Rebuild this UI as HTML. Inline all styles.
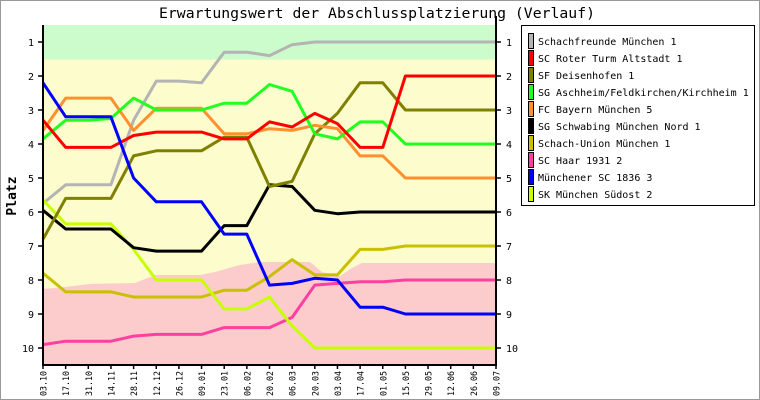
<!DOCTYPE html>
<html><head><meta charset="utf-8"><style>
html,body{margin:0;padding:0;background:#fff}
svg{display:block}
text{font-family:"DejaVu Sans Mono","Liberation Mono",monospace;fill:#000}
</style></head><body>
<svg id="s" width="760" height="400" xmlns="http://www.w3.org/2000/svg">
<rect x="0.5" y="0.5" width="759" height="399" fill="#fff" stroke="#999" stroke-width="1"/>
<text x="159" y="18" font-size="14" textLength="436" lengthAdjust="spacingAndGlyphs">Erwartungswert der Abschlussplatzierung (Verlauf)</text>
<rect x="43" y="25" width="453" height="340" fill="#fcfccc"/>
<rect x="43" y="25" width="453" height="34.5" fill="#ccfccc"/>
<polygon fill="#fccccc" points="43,289 65,287 90,284 135,283 155,275 200,275 215,272 240,265 260,262 310,262 322,272 340,276 352,268 362,263 496,263 496,365 43,365"/>
<g id="lines" fill="none" stroke-width="3" stroke-linejoin="round"></g>
<line x1="43" y1="25" x2="43" y2="365" stroke="#000" stroke-width="2"/>
<line x1="496" y1="16" x2="496" y2="365" stroke="#000" stroke-width="2"/>
<line x1="42" y1="365" x2="497" y2="365" stroke="#000" stroke-width="2"/>
<g id="ticks" stroke="#000" stroke-width="1.5"></g>
<g font-size="10" text-anchor="end">
<text x="34" y="46">1</text><text x="34" y="80">2</text><text x="34" y="114">3</text><text x="34" y="148">4</text><text x="34" y="182">5</text><text x="34" y="216">6</text><text x="34" y="250">7</text><text x="34" y="284">8</text><text x="34" y="318">9</text><text x="34" y="352">10</text>
</g>
<g font-size="10">
<text x="506" y="46">1</text><text x="506" y="80">2</text><text x="506" y="114">3</text><text x="506" y="148">4</text><text x="506" y="182">5</text><text x="506" y="216">6</text><text x="506" y="250">7</text><text x="506" y="284">8</text><text x="506" y="318">9</text><text x="506" y="352">10</text>
</g>
<text transform="translate(16,196) rotate(-90)" font-size="13" text-anchor="middle" font-weight="bold">Platz</text>
<g font-size="9">
<text transform="translate(46.5,396) rotate(-90)" textLength="25" lengthAdjust="spacingAndGlyphs">03.10</text>
<text transform="translate(69.1,396) rotate(-90)" textLength="25" lengthAdjust="spacingAndGlyphs">17.10</text>
<text transform="translate(91.8,396) rotate(-90)" textLength="25" lengthAdjust="spacingAndGlyphs">31.10</text>
<text transform="translate(114.5,396) rotate(-90)" textLength="25" lengthAdjust="spacingAndGlyphs">14.11</text>
<text transform="translate(137.1,396) rotate(-90)" textLength="25" lengthAdjust="spacingAndGlyphs">28.11</text>
<text transform="translate(159.8,396) rotate(-90)" textLength="25" lengthAdjust="spacingAndGlyphs">12.12</text>
<text transform="translate(182.4,396) rotate(-90)" textLength="25" lengthAdjust="spacingAndGlyphs">26.12</text>
<text transform="translate(205.1,396) rotate(-90)" textLength="25" lengthAdjust="spacingAndGlyphs">09.01</text>
<text transform="translate(227.7,396) rotate(-90)" textLength="25" lengthAdjust="spacingAndGlyphs">23.01</text>
<text transform="translate(250.4,396) rotate(-90)" textLength="25" lengthAdjust="spacingAndGlyphs">06.02</text>
<text transform="translate(273,396) rotate(-90)" textLength="25" lengthAdjust="spacingAndGlyphs">20.02</text>
<text transform="translate(295.7,396) rotate(-90)" textLength="25" lengthAdjust="spacingAndGlyphs">06.03</text>
<text transform="translate(318.3,396) rotate(-90)" textLength="25" lengthAdjust="spacingAndGlyphs">20.03</text>
<text transform="translate(341,396) rotate(-90)" textLength="25" lengthAdjust="spacingAndGlyphs">03.04</text>
<text transform="translate(363.6,396) rotate(-90)" textLength="25" lengthAdjust="spacingAndGlyphs">17.04</text>
<text transform="translate(386.3,396) rotate(-90)" textLength="25" lengthAdjust="spacingAndGlyphs">01.05</text>
<text transform="translate(408.9,396) rotate(-90)" textLength="25" lengthAdjust="spacingAndGlyphs">15.05</text>
<text transform="translate(431.6,396) rotate(-90)" textLength="25" lengthAdjust="spacingAndGlyphs">29.05</text>
<text transform="translate(454.2,396) rotate(-90)" textLength="25" lengthAdjust="spacingAndGlyphs">12.06</text>
<text transform="translate(476.9,396) rotate(-90)" textLength="25" lengthAdjust="spacingAndGlyphs">26.06</text>
<text transform="translate(499.5,396) rotate(-90)" textLength="25" lengthAdjust="spacingAndGlyphs">09.07</text>
</g>
<rect x="521.5" y="25.5" width="233" height="180" fill="#fff" stroke="#000"/>
<g stroke="#000" stroke-width="1">
<rect x="528.5" y="33.5" width="5" height="15" fill="#b4b4b4"/>
<rect x="528.5" y="50.5" width="5" height="15" fill="#ff0000"/>
<rect x="528.5" y="67.5" width="5" height="15" fill="#808000"/>
<rect x="528.5" y="84.5" width="5" height="15" fill="#20ff20"/>
<rect x="528.5" y="101.5" width="5" height="15" fill="#ff9030"/>
<rect x="528.5" y="118.5" width="5" height="15" fill="#000000"/>
<rect x="528.5" y="135.5" width="5" height="15" fill="#c8c000"/>
<rect x="528.5" y="152.5" width="5" height="15" fill="#ff40a0"/>
<rect x="528.5" y="169.5" width="5" height="15" fill="#0000ff"/>
<rect x="528.5" y="186.5" width="5" height="15" fill="#c8ff00"/>
</g>
<g font-size="10">
<text x="538" y="45">Schachfreunde München 1</text>
<text x="538" y="62">SC Roter Turm Altstadt 1</text>
<text x="538" y="79">SF Deisenhofen 1</text>
<text x="538" y="96">SG Aschheim/Feldkirchen/Kirchheim 1</text>
<text x="538" y="113">FC Bayern München 5</text>
<text x="538" y="130">SG Schwabing München Nord 1</text>
<text x="538" y="147">Schach-Union München 1</text>
<text x="538" y="164">SC Haar 1931 2</text>
<text x="538" y="181">Münchener SC 1836 3</text>
<text x="538" y="198">SK München Südost 2</text>
</g>
</svg>
<script>
var S=[
["#b4b4b4",[5.75,5.2,5.2,5.2,3.3,2.15,2.15,2.2,1.3,1.3,1.4,1.08,1,1,1,1,1,1,1,1,1]],
["#c8c000",[7.8,8.35,8.35,8.35,8.5,8.5,8.5,8.5,8.3,8.3,7.9,7.4,7.85,7.85,7.1,7.1,7,7,7,7,7]],
["#ff40a0",[9.9,9.8,9.8,9.8,9.65,9.6,9.6,9.6,9.4,9.4,9.4,9.1,8.15,8.1,8.05,8.05,8,8,8,8,8]],
["#c8ff00",[5.65,6.35,6.35,6.35,7.1,8,8,8,8.85,8.85,8.5,9.35,10,10,10,10,10,10,10,10,10]],
["#000000",[5.95,6.5,6.5,6.5,7.05,7.15,7.15,7.15,6.4,6.4,5.2,5.25,5.95,6.05,6,6,6,6,6,6,6]],
["#808000",[6.8,5.6,5.6,5.6,4.35,4.2,4.2,4.2,3.8,3.8,5.25,5.1,3.7,3.1,2.2,2.2,3,3,3,3,3]],
["#ff9030",[3.6,2.65,2.65,2.65,3.6,2.95,2.95,2.95,3.7,3.7,3.55,3.6,3.45,3.55,4.35,4.35,5,5,5,5,5]],
["#20ff20",[3.85,3.3,3.3,3.25,2.65,3,3,3,2.8,2.8,2.25,2.45,3.7,3.85,3.35,3.35,4,4,4,4,4]],
["#ff0000",[3.3,4.1,4.1,4.1,3.75,3.65,3.65,3.65,3.85,3.85,3.35,3.5,3.1,3.4,4.1,4.1,2,2,2,2,2]],
["#0000ff",[2.2,3.2,3.2,3.2,5,5.7,5.7,5.7,6.65,6.65,8.15,8.1,7.95,8,8.8,8.8,9,9,9,9,9]]
];
var ns="http://www.w3.org/2000/svg",g=document.getElementById("lines");
S.forEach(function(s){var p=document.createElementNS(ns,"polyline");
p.setAttribute("stroke",s[0]);
p.setAttribute("points",s[1].map(function(r,i){return (43+22.65*i).toFixed(1)+","+(42+34*(r-1)).toFixed(1)}).join(" "));
g.appendChild(p);});
var t=document.getElementById("ticks");
function L(a,b,c,d){var l=document.createElementNS(ns,"line");l.setAttribute("x1",a);l.setAttribute("y1",b);l.setAttribute("x2",c);l.setAttribute("y2",d);t.appendChild(l);}
for(var i=0;i<10;i++){var y=42+34*i;L(38,y,43,y);L(496,y,501,y);}
for(var i=0;i<21;i++){var x=43+22.65*i;L(x,365,x,369);}
</script>
</body></html>
